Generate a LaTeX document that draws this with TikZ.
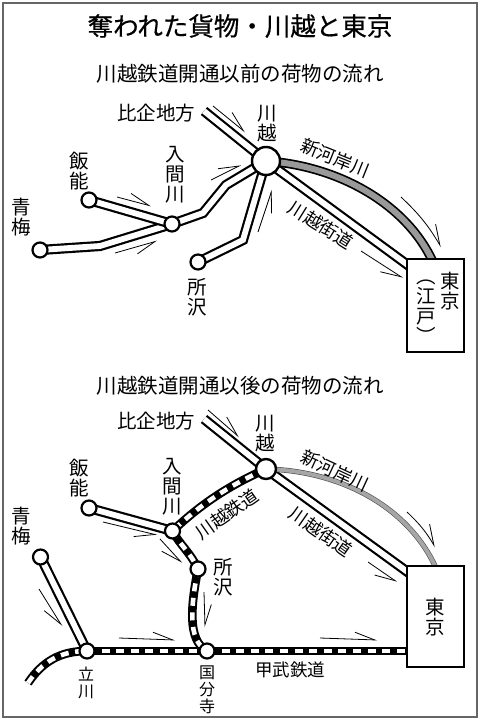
\documentclass[tikz,border=0pt]{standalone}
\usepackage{fontspec}
\setmainfont{Noto Sans CJK JP}
\newfontfamily\titlefont[FakeBold=0.5]{Noto Sans CJK JP}
\usepackage{xcolor}
\usepackage{tikz}
\usetikzlibrary{arrows.meta, backgrounds}

\begin{document}
\begin{tikzpicture}[
  x=1pt, y=-1pt,
  town/.style={draw, circle, fill=white, line width=2.2pt, minimum size=15pt, inner sep=0pt},
  hub/.style={draw, circle, fill=white, line width=2.4pt, minimum size=28pt, inner sep=0pt},
  city/.style={draw, fill=white, line width=2.4pt, minimum width=57pt, inner sep=0pt},
  road/.style={draw, line width=2.2pt, double=white, double distance=5.8pt},
  river/.style={draw, line width=1.7pt, double=black!40, double distance=6pt},
  thinriver/.style={draw, black!70, line width=.6pt, double=black!35, double distance=4pt},
  rail/.style={line width=8.6pt, black, postaction={draw, white, line width=4.6pt, dash pattern=on 8pt off 6.6pt}},
  flow/.style={-{Straight Barb[harpoon, length=20pt, width=14pt]}, line width=.8pt},
  flowr/.style={-{Straight Barb[harpoon, swap, length=20pt, width=14pt]}, line width=.8pt},
  txt/.style={align=center, inner sep=0pt, font=\fontsize{19.5}{20}\selectfont},
  small/.style={align=center, inner sep=0pt, font=\fontsize{16}{17}\selectfont},
  slant/.style={inner sep=0pt, font=\fontsize{18}{20}\selectfont}
]
\useasboundingbox (0,0) rectangle (480,720);
\draw[black!60, line width=1.2pt] (3,3) rectangle (477,717);
\node[inner sep=0pt, font=\titlefont\fontsize{25.5}{27}\selectfont] (title) at (240,26) {奪われた貨物・川越と東京};
\node[inner sep=0pt, font=\fontsize{20.5}{22}\selectfont] (before) at (240,74) {川越鉄道開通以前の荷物の流れ};
\node[inner sep=0pt, font=\fontsize{20.5}{22}\selectfont] (after)  at (240,386) {川越鉄道開通以後の荷物の流れ};

\node[hub]  (kawagoe1)    at (266,161) {};
\node[town] (iruma1)      at (172,224) {};
\node[town] (hanno1)      at (89,200) {};
\node[town] (ome1)        at (40,250) {};
\node[town] (tokorozawa1) at (198,262) {};
\node[city, minimum height=93pt] (tokyo1) at (435.5,305.5) {};
\coordinate (hiki1)  at (204,111);
\coordinate (kaido1) at (420,274);
\coordinate (kashi1) at (433,262);

\node[txt] (lome1)    at (21,217)  {青\\梅};
\node[txt] (lhanno1)  at (79,171)  {飯\\能};
\node[txt] (liruma1)  at (175,175) {入\\間\\川};
\node[txt] (lhiki1)   at (156,113) {比企地方};
\node[txt] (ltoko1)   at (197,297) {所\\沢};
\node[txt] (lkawa1)   at (267,124) {川\\越};
\node[slant, rotate=-22] (lkashi1) at (335,158) {新河岸川};
\node[slant, rotate=-32] (lkaido1) at (321,225) {川越街道};
\node[txt] (ltokyo1)  at (450,291) {東\\京};
\node[txt] (ledo1)    at (426,312) {︵\\江\\戸\\︶};

\begin{scope}[on background layer]
\draw[road] (ome1.center) -- (100,246) -- (iruma1.center);
\draw[road] (hanno1.center) -- (iruma1.center);
\draw[road] (iruma1.center) -- (203,213) -- (226,185) -- (kawagoe1.center);
\draw[road] (tokorozawa1.center) -- (243,240) -- (kawagoe1.center);
\draw[road] (hiki1) -- (kawagoe1.center);
\draw[road] (kawagoe1.center) -- (kaido1);
\draw[river] (kawagoe1.center) .. controls (340,166) and (407,205) .. (kashi1);
\end{scope}

\draw[flow]  (213,106) -- (245,132);
\draw[flow]  (117,197) -- (151,206);
\draw[flowr] (115,253) -- (157,241);
\draw[flow]  (211,180) -- (241,165);
\draw[flowr] (258,232) -- (272,190);
\draw[flowr] (361,251) -- (403,278);
\draw[flow]  (401,197) to[bend left=8] (441,247);

\node[hub, minimum size=20pt] (kawagoe2)    at (266,469) {};
\node[town] (iruma2)      at (172.5,531) {};
\node[town] (hanno2)      at (89,508) {};
\node[town] (ome2)        at (40.5,557) {};
\node[town] (tokorozawa2) at (198,569) {};
\node[town] (tachikawa)   at (87,651) {};
\node[town] (kokubunji)   at (207,651) {};
\node[city, minimum height=101pt] (tokyo2) at (435.5,616.5) {};
\coordinate (hiki2)  at (204,419);
\coordinate (kaido2) at (420,581);
\coordinate (kashi2) at (436,568);
\coordinate (tail)   at (28,683);
\coordinate (kobu)   at (420,651);

\node[txt] (lome2)    at (21,526)  {青\\梅};
\node[txt] (lhanno2)  at (79,478)  {飯\\能};
\node[txt] (liruma2)  at (172,487) {入\\間\\川};
\node[txt] (lhiki2)   at (156,421) {比企地方};
\node[txt] (ltoko2)   at (223,577) {所\\沢};
\node[txt] (lkawa2)   at (265,434) {川\\越};
\node[slant, rotate=-25] (lkashi2) at (335,471) {新河岸川};
\node[slant, rotate=-35] (lkaido2) at (321,532) {川越街道};
\node[slant, rotate=35]  (lrail)   at (227,514) {川越鉄道};
\node[txt] (ltokyo2)  at (435,617) {東\\京};
\node[small, font=\fontsize{17.5}{19}\selectfont] (lkobu) at (290,670) {甲武鉄道};
\node[small] (ltachi) at (86,683)  {立\\川};
\node[small] (lkoku)  at (207,690) {国\\分\\寺};

\begin{scope}[on background layer]
\draw[road] (ome2.center) -- (tachikawa.center);
\draw[road] (hanno2.center) -- (iruma2.center);
\draw[road] (hiki2) -- (kawagoe2.center);
\draw[road] (kawagoe2.center) -- (kaido2);
\draw[thinriver] (kawagoe2.center) .. controls (345,471) and (410,510) .. (kashi2);
\draw[rail] (kawagoe2.center) .. controls (235,483) and (205,500) .. (iruma2.center);
\draw[rail] (iruma2.center) .. controls (180,545) and (190,552) .. (tokorozawa2.center);
\draw[rail] (tokorozawa2.center) .. controls (191,605) and (187,640) .. (kokubunji.center);
\draw[rail] (tail) .. controls (42,662) and (60,651) .. (tachikawa.center);
\draw[rail] (tachikawa.center) -- (kokubunji.center);
\draw[rail] (kokubunji.center) -- (kobu);
\end{scope}

\draw[flow]  (208,410) -- (239,437);
\draw[flowr] (103,522) -- (157,535);
\draw[flowr] (160,539) -- (182,563);
\draw[flow]  (204,592) -- (205,627);
\draw[flowr] (39,589)  -- (62,626);
\draw[flow]  (119,638) -- (175,640);
\draw[flow]  (320,638) -- (377,640);
\draw[flowr] (368,562) -- (397,582);
\draw[flow]  (407,512) to[bend left=8] (435,547);
\end{tikzpicture}
\end{document}
